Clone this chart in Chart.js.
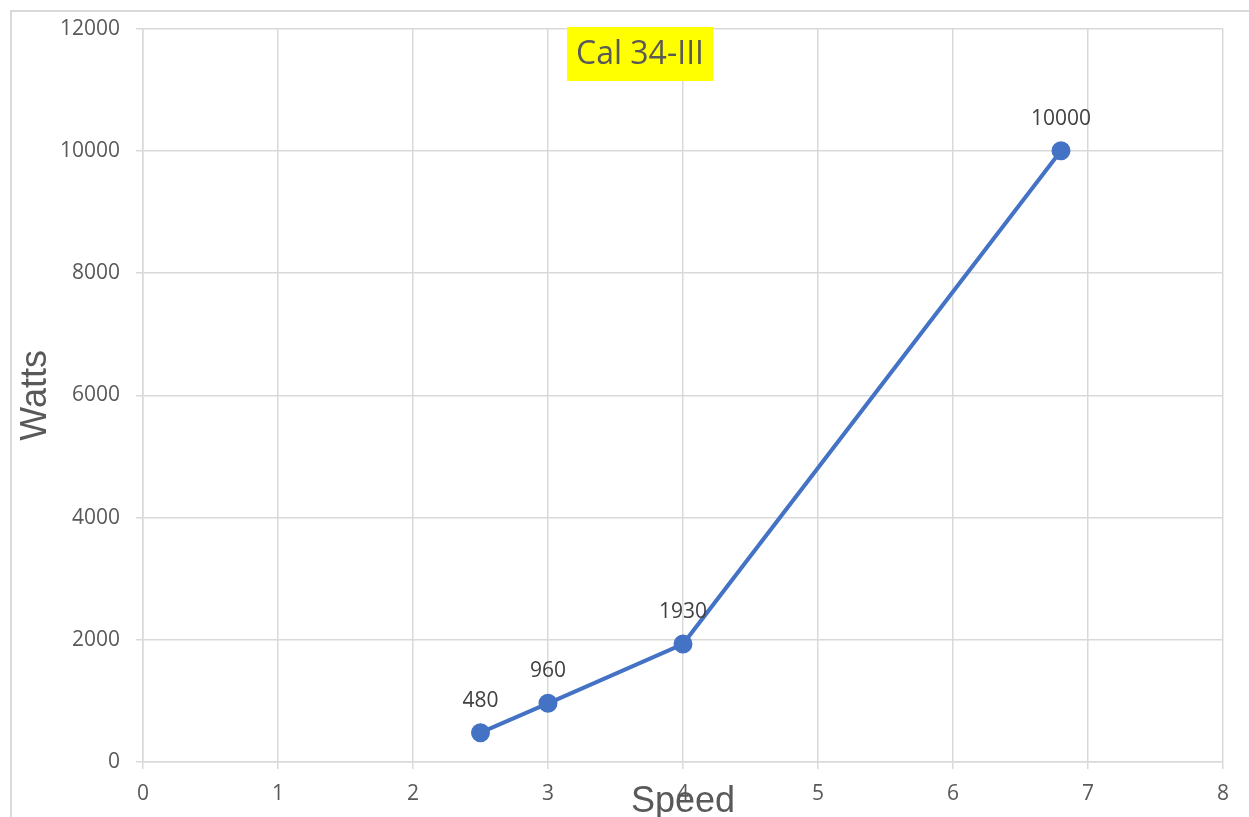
<!DOCTYPE html>
<html>
<head>
<meta charset="utf-8">
<script src="https://cdn.jsdelivr.net/npm/chart.js@4"></script>
<style>
  html, body { margin: 0; padding: 0; background: #fff; }
  #wrap { width: 1249px; height: 817px; position: relative; }
</style>
</head>
<body>
<div id="wrap"><canvas id="chart" width="1249" height="817"></canvas></div>
<script>
// data
const speed = [2.5, 3, 4, 6.8];
const watts = [480, 960, 1930, 10000];
const chartTitle = 'Cal 34-III';
const xTitle = 'Speed';
const yTitle = 'Watts';

const gridColor = '#d9d9d9';
const textColor = '#595959';

// frame, title box, axis titles and point labels
const decorations = {
  id: 'decorations',
  beforeDraw(chart) {
    const ctx = chart.ctx;
    ctx.save();
    ctx.strokeStyle = gridColor;
    ctx.lineWidth = 2;
    ctx.strokeRect(11, 11, 1400, 1000);
    ctx.restore();
  },
  afterDatasetsDraw(chart) {
    const ctx = chart.ctx;
    const area = chart.chartArea;
    ctx.save();

    // point labels
    const meta = chart.getDatasetMeta(0);
    ctx.font = '21px "Open Sans"';
    ctx.fillStyle = '#404040';
    ctx.textAlign = 'center';
    ctx.textBaseline = 'middle';
    meta.data.forEach((pt, i) => {
      ctx.fillText(String(watts[i]), pt.x, pt.y - 32);
    });

    // title with yellow box (sits a little left of the plot centre)
    ctx.font = '32px "Open Sans"';
    const tx = 640;
    const w = ctx.measureText(chartTitle).width;
    ctx.fillStyle = '#ffff00';
    ctx.fillRect(tx - w / 2 - 9, 27, w + 18, 54);
    ctx.fillStyle = textColor;
    ctx.fillText(chartTitle, tx, 55);

    // axis titles
    const cx = (area.left + area.right) / 2;
    ctx.font = '36px "Liberation Sans"';
    ctx.textBaseline = 'alphabetic';
    ctx.fillText(xTitle, cx, 812);
    ctx.translate(46, (area.top + area.bottom) / 2);
    ctx.rotate(-Math.PI / 2);
    ctx.fillText(yTitle, 0, 0);
    ctx.restore();
  }
};

new Chart(document.getElementById('chart'), {
  type: 'scatter',
  data: {
    datasets: [{
      data: speed.map((s, i) => ({ x: s, y: watts[i] })),
      showLine: true,
      borderColor: '#4472c4',
      backgroundColor: '#4472c4',
      borderWidth: 4,
      pointRadius: 7.5,
      pointHoverRadius: 7.5,
      tension: 0
    }]
  },
  options: {
    responsive: false,
    animation: false,
    layout: { padding: { left: 0, top: 26, right: 26, bottom: 0 } },
    plugins: {
      legend: { display: false },
      tooltip: { enabled: false }
    },
    scales: {
      x: {
        type: 'linear',
        min: 0,
        max: 8,
        ticks: { stepSize: 1, color: textColor, padding: 12, font: { family: 'Open Sans', size: 21 },
          callback: v => String(v) },
        grid: { color: gridColor, lineWidth: 1.5, tickLength: 7 },
        border: { color: gridColor, width: 1.5 },
        afterFit(scale) { scale.height = 55; }
      },
      y: {
        min: 0,
        max: 12000,
        ticks: { stepSize: 2000, color: textColor, padding: 16, font: { family: 'Open Sans', size: 21 },
          callback: v => String(v) },
        grid: { color: gridColor, lineWidth: 1.5, tickLength: 7 },
        border: { color: gridColor, width: 1.5 },
        afterFit(scale) { scale.width = 143; }
      }
    }
  },
  plugins: [decorations]
});
</script>
</body>
</html>
